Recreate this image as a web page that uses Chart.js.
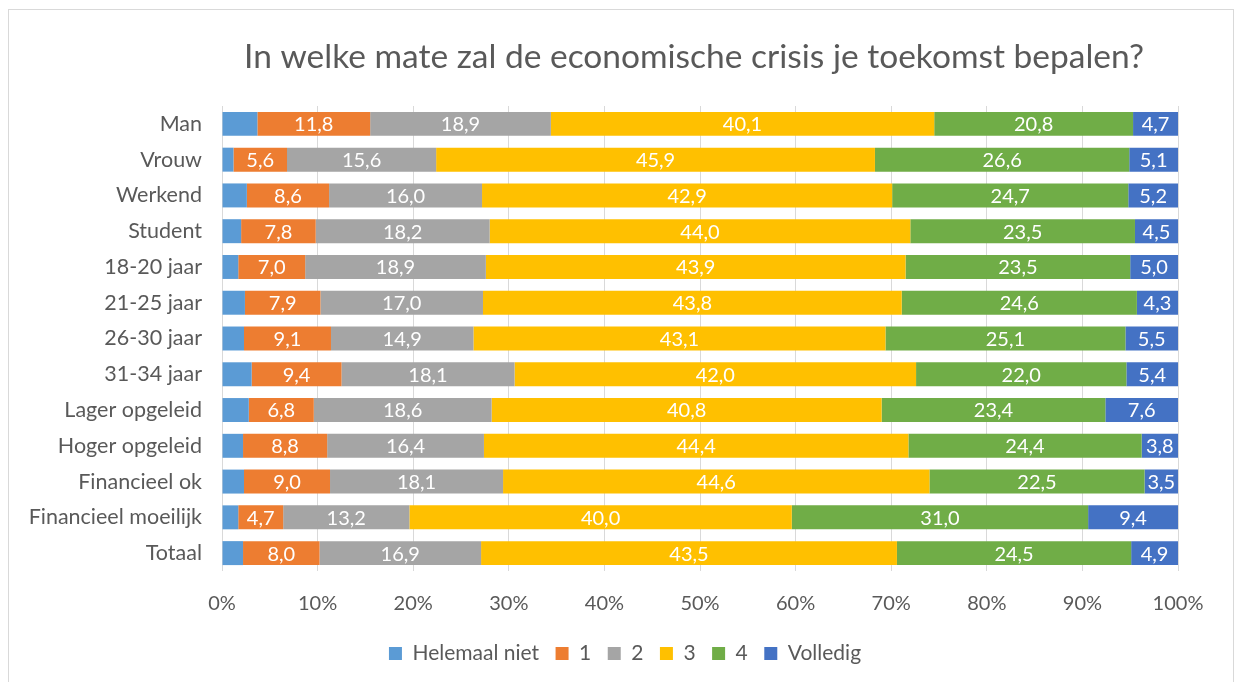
<!DOCTYPE html>
<html>
<head>
<meta charset="utf-8">
<script src="https://cdn.jsdelivr.net/npm/chart.js@4/dist/chart.umd.min.js"></script>
<style>
    body { margin: 0; background: #fff; }
    .frame { position: absolute; left: 8px; top: 9px; width: 1224px; height: 680px; border: 1px solid #d9d9d9; }
    .chart-container { position: absolute; left: 0; top: 0; width: 1234px; height: 682px; }
</style>
</head>
<body>
<div class="frame"></div>
<div class="chart-container"><canvas id="chart"></canvas></div>
<script>
const categories = ['Man', 'Vrouw', 'Werkend', 'Student', '18-20 jaar', '21-25 jaar', '26-30 jaar',
    '31-34 jaar', 'Lager opgeleid', 'Hoger opgeleid', 'Financieel ok', 'Financieel moeilijk', 'Totaal'];

const helemaalNiet = [3.7, 1.2, 2.6, 2.0, 1.7, 2.4, 2.3, 3.1, 2.8, 2.2, 2.3, 1.7, 2.2];
const score1 = [11.8, 5.6, 8.6, 7.8, 7.0, 7.9, 9.1, 9.4, 6.8, 8.8, 9.0, 4.7, 8.0];
const score2 = [18.9, 15.6, 16.0, 18.2, 18.9, 17.0, 14.9, 18.1, 18.6, 16.4, 18.1, 13.2, 16.9];
const score3 = [40.1, 45.9, 42.9, 44.0, 43.9, 43.8, 43.1, 42.0, 40.8, 44.4, 44.6, 40.0, 43.5];
const score4 = [20.8, 26.6, 24.7, 23.5, 23.5, 24.6, 25.1, 22.0, 23.4, 24.4, 22.5, 31.0, 24.5];
const volledig = [4.7, 5.1, 5.2, 4.5, 5.0, 4.3, 5.5, 5.4, 7.6, 3.8, 3.5, 9.4, 4.9];

const seriesNames = ['Helemaal niet', '1', '2', '3', '4', 'Volledig'];
const seriesValues = [helemaalNiet, score1, score2, score3, score4, volledig];
const seriesColors = ['#5B9BD5', '#ED7D31', '#A5A5A5', '#FFC000', '#70AD47', '#4472C4'];

const titleText = 'In welke mate zal de economische crisis je toekomst bepalen?';
const textColor = '#595959';
const fontFamily = 'Lato, "Open Sans", sans-serif';

// title centred over the plot area, like the Excel original
const plotTitle = {
    id: 'plotTitle',
    afterLayout(chart) {
        // shift the legend so it is centred a bit more to the right
        chart.legend.left = 72;
    },
    afterDraw(chart) {
        const ctx = chart.ctx;
        const area = chart.chartArea;
        ctx.save();
        ctx.font = '33.5px ' + fontFamily;
        ctx.fillStyle = textColor;
        ctx.textAlign = 'center';
        ctx.textBaseline = 'middle';
        ctx.fillText(titleText, (area.left + area.right) / 2 - 6, 57);
        ctx.restore();
    }
};

// white value labels in the middle of each segment (not on the first series)
const segmentLabels = {
    id: 'segmentLabels',
    afterDatasetsDraw(chart) {
        const ctx = chart.ctx;
        ctx.save();
        ctx.font = '20px ' + fontFamily;
        ctx.fillStyle = '#fff';
        ctx.textAlign = 'center';
        ctx.textBaseline = 'middle';
        chart.data.datasets.forEach((ds, i) => {
            if (i === 0) return;
            chart.getDatasetMeta(i).data.forEach((bar, j) => {
                const p = bar.getProps(['x', 'y', 'base'], true);
                const x = (p.x + p.base) / 2;
                ctx.fillText(ds.data[j].toFixed(1).replace('.', ','), x, p.y + 1);
            });
        });
        ctx.restore();
    }
};

new Chart(document.getElementById('chart'), {
    type: 'bar',
    data: {
        labels: categories,
        datasets: seriesNames.map((name, i) => ({
            label: name,
            data: seriesValues[i],
            backgroundColor: seriesColors[i],
            borderWidth: 0,
            categoryPercentage: 1,
            barPercentage: 0.67
        }))
    },
    options: {
        indexAxis: 'y',
        responsive: true,
        maintainAspectRatio: false,
        animation: false,
        layout: {
            padding: { top: 106, right: 56, bottom: 8, left: 0 }
        },
        plugins: {
            title: { display: false },
            legend: {
                position: 'bottom',
                labels: {
                    color: textColor,
                    font: { family: fontFamily, size: 21 },
                    boxWidth: 13,
                    boxHeight: 13,
                    padding: 6,
                    generateLabels(chart) {
                        const items = Chart.defaults.plugins.legend.labels.generateLabels(chart);
                        // extra gap after each entry, Excel spaces them wider
                        items.forEach((item, i) => {
                            if (i < items.length - 1) item.text += '\u2002';
                        });
                        return items;
                    }
                }
            },
            tooltip: { enabled: false }
        },
        scales: {
            x: {
                stacked: true,
                min: 0,
                max: 100,
                ticks: {
                    stepSize: 10,
                    color: textColor,
                    font: { family: fontFamily, size: 20 },
                    padding: 21,
                    callback: v => v + '%'
                },
                grid: { color: '#d9d9d9', drawTicks: false },
                border: { display: false }
            },
            y: {
                stacked: true,
                ticks: {
                    color: textColor,
                    font: { family: fontFamily, size: 21.5 },
                    padding: 20
                },
                grid: { display: false, drawTicks: false },
                border: { display: false },
                afterFit(scale) { scale.width = 222; }
            }
        }
    },
    plugins: [segmentLabels, plotTitle]
});
</script>
</body>
</html>
